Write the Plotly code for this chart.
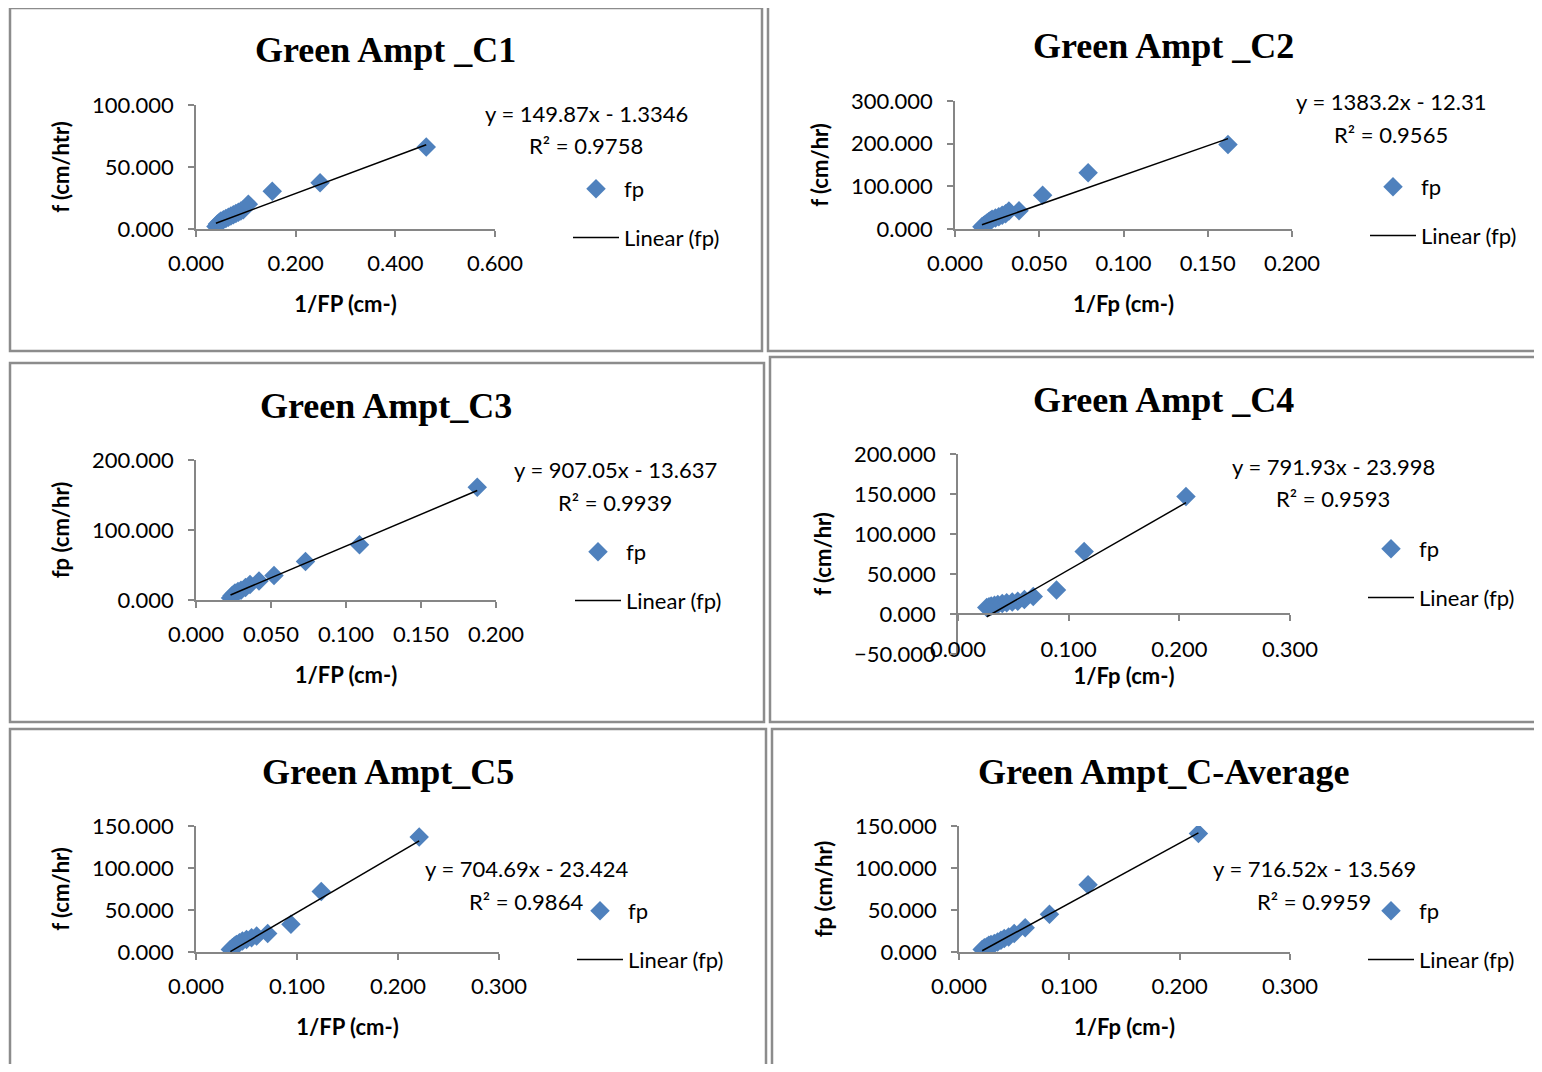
import plotly.graph_objects as go
import numpy as np

PAGE_OFF = 8          # default body margin of the page
W, H = 1542 - 2 * PAGE_OFF, 1072 - 2 * PAGE_OFF

# ---------------- data ----------------
titles = ["Green Ampt _C1", "Green Ampt _C2", "Green Ampt_C3",
          "Green Ampt _C4", "Green Ampt_C5", "Green Ampt_C-Average"]
x_titles = ["1/FP (cm-)", "1/Fp (cm-)", "1/FP (cm-)", "1/Fp (cm-)", "1/FP (cm-)", "1/Fp (cm-)"]
y_titles = ["f (cm/htr)", "f (cm/hr)", "fp (cm/hr)", "f (cm/hr)", "f (cm/hr)", "fp (cm/hr)"]

c1_x = [0.040, 0.043, 0.047, 0.050, 0.055, 0.060, 0.065, 0.070, 0.075, 0.080, 0.085, 0.090, 0.095, 0.105, 0.153, 0.249, 0.462]
c1_y = [2.0, 4.0, 5.5, 6.5, 7.5, 8.5, 9.5, 10.5, 11.5, 12.5, 13.5, 14.5, 15.5, 20.0, 30.4, 37.3, 66.1]

c2_x = [0.016, 0.017, 0.018, 0.019, 0.020, 0.021, 0.022, 0.024, 0.026, 0.028, 0.030, 0.032, 0.038, 0.052, 0.079, 0.162]
c2_y = [5.0, 8.0, 11.0, 14.0, 17.0, 20.0, 23.0, 26.0, 29.0, 32.0, 36.0, 42.0, 43.0, 79.0, 132.0, 198.0]

c3_x = [0.023, 0.024, 0.025, 0.026, 0.028, 0.030, 0.033, 0.036, 0.042, 0.052, 0.073, 0.109, 0.1875]
c3_y = [3.0, 6.0, 8.0, 10.0, 12.0, 14.0, 18.0, 22.0, 27.0, 35.0, 55.0, 79.0, 161.0]

c4_x = [0.026, 0.028, 0.030, 0.033, 0.036, 0.040, 0.044, 0.049, 0.054, 0.060, 0.068, 0.089, 0.114, 0.206]
c4_y = [8.0, 9.0, 10.0, 11.0, 12.0, 13.0, 14.0, 15.0, 16.0, 18.0, 22.0, 30.0, 78.0, 147.0]

c5_x = [0.034, 0.036, 0.038, 0.040, 0.043, 0.046, 0.050, 0.055, 0.060, 0.071, 0.094, 0.124, 0.221]
c5_y = [3.0, 5.0, 7.0, 9.0, 11.0, 13.0, 15.0, 17.0, 19.0, 22.0, 33.0, 72.0, 137.0]

c6_x = [0.021, 0.023, 0.025, 0.027, 0.029, 0.032, 0.035, 0.038, 0.041, 0.045, 0.050, 0.060, 0.082, 0.117, 0.217]
c6_y = [3.0, 5.0, 6.0, 8.0, 9.0, 10.0, 12.0, 14.0, 16.0, 18.0, 22.0, 29.0, 45.0, 80.0, 141.0]

slopes = [149.87, 1383.2, 907.05, 791.93, 704.69, 716.52]
intercepts = [-1.3346, -12.31, -13.637, -23.998, -23.424, -13.569]
eq_texts = ["y = 149.87x - 1.3346", "y = 1383.2x - 12.31", "y = 907.05x - 13.637",
            "y = 791.93x - 23.998", "y = 704.69x - 23.424", "y = 716.52x - 13.569"]
r2_texts = ["R² = 0.9758", "R² = 0.9565", "R² = 0.9939", "R² = 0.9593", "R² = 0.9864", "R² = 0.9959"]

x_ranges = [[0, 0.6], [0, 0.2], [0, 0.2], [0, 0.3], [0, 0.3], [0, 0.3]]
x_dticks = [0.2, 0.05, 0.05, 0.1, 0.1, 0.1]
y_ranges = [[0, 100], [0, 300], [0, 200], [-50, 200], [0, 150], [0, 150]]
y_dticks = [50, 100, 100, 50, 50, 50]

xs = [c1_x, c2_x, c3_x, c4_x, c5_x, c6_x]
ys = [c1_y, c2_y, c3_y, c4_y, c5_y, c6_y]

# ---------------- layout geometry (screen pixels) ----------------
plot_px = [  # x0, x1, ytop, ybottom
    (196, 495, 105, 229),
    (955, 1292, 101, 229),
    (196, 496, 460, 600),
    (958, 1290, 454, 654),
    (196, 499, 826, 952),
    (959, 1290, 826, 952),
]
frames = [(10, 8, 762, 351), (768, 4, 1560, 351), (10, 363, 764, 722),
          (770, 357, 1560, 722), (10, 729, 766, 1090), (772, 729, 1560, 1090)]
title_pos = [(385, 50), (1163, 46), (386, 406), (1163, 400), (388, 772), (1164, 772)]
eq_pos = [(586, 114, 146), (1391, 102, 134), (615, 469, 502),
          (1333, 466, 498), (526, 868, 901), (1314, 868, 901)]
legend_pos = [(567, 189), (1364, 187), (569, 552), (1362, 549), (571, 911), (1362, 911)]


def px(x):
    return (x - PAGE_OFF) / W


def py(y):
    return 1 - (y - PAGE_OFF) / H


BLUE = "#4F81BD"
AX = "#868686"
TICKFONT = dict(family="Lato", size=22, color="black")

fig = go.Figure()
layout = dict(width=W, height=H, autosize=False,
              margin=dict(l=0, r=0, t=0, b=0, pad=0, autoexpand=False),
              paper_bgcolor="white", plot_bgcolor="white",
              showlegend=True)
shapes = []
annotations = []

for i in range(6):
    n = i + 1
    xa = "x" if n == 1 else f"x{n}"
    ya = "y" if n == 1 else f"y{n}"
    lg = "legend" if n == 1 else f"legend{n}"
    x0, x1, yt, yb = plot_px[i]

    fig.add_trace(go.Scatter(
        x=xs[i], y=ys[i], mode="markers", name="fp",
        marker=dict(symbol="diamond", size=15, color=BLUE),
        xaxis=xa, yaxis=ya, legend=lg, legendgroup=f"g{n}a"))

    xmin, xmax = min(xs[i]), max(xs[i])
    lx = np.array([xmin, xmax])
    ly = slopes[i] * lx + intercepts[i]
    fig.add_trace(go.Scatter(
        x=lx, y=ly, mode="lines", name="Linear (fp)",
        line=dict(color="black", width=1.5),
        xaxis=xa, yaxis=ya, legend=lg, legendgroup=f"g{n}b"))

    xkey = "xaxis" if n == 1 else f"xaxis{n}"
    ykey = "yaxis" if n == 1 else f"yaxis{n}"
    ydom = [py(yb), py(yt)]
    xaxis = dict(domain=[px(x0), px(x1)], range=x_ranges[i], dtick=x_dticks[i],
                 tick0=0, tickformat=".3f", showgrid=False, zeroline=False,
                 showline=True, linecolor=AX, linewidth=1.5, ticks="outside",
                 ticklen=6, tickcolor=AX, tickwidth=1.5, tickfont=TICKFONT,
                 ticklabelstandoff=8,
                 title=dict(text=f"<b>{x_titles[i]}</b>",
                            font=dict(family="Lato", size=22, color="black"),
                            standoff=21),
                 anchor=ya, fixedrange=True, automargin=False)
    if n == 4:
        frac = (0 - y_ranges[i][0]) / (y_ranges[i][1] - y_ranges[i][0])
        xaxis.update(anchor="free", position=ydom[0] + frac * (ydom[1] - ydom[0]),
                     ticklabelstandoff=10)
        xaxis["title"]["standoff"] = 2
    yaxis = dict(domain=ydom, range=y_ranges[i], dtick=y_dticks[i], tick0=0,
                 tickformat=".3f", showgrid=False, zeroline=False,
                 showline=True, linecolor=AX, linewidth=1.5, ticks="outside",
                 ticklen=6, tickcolor=AX, tickwidth=1.5, tickfont=TICKFONT,
                 ticklabelstandoff=10,
                 title=dict(text=f"<b>{y_titles[i]}</b>",
                            font=dict(family="Lato", size=22, color="black"),
                            standoff=16),
                 anchor=xa, fixedrange=True, automargin=False)
    layout[xkey] = xaxis
    layout[ykey] = yaxis

    lx0, ly0 = legend_pos[i]
    layout[lg] = dict(x=px(lx0 + 1), y=py(ly0 - 21), xanchor="left", yanchor="top",
                      bgcolor="rgba(0,0,0,0)", borderwidth=0,
                      font=dict(family="Lato", size=22, color="black"),
                      tracegroupgap=17, itemwidth=46)

    fx0, fy0, fx1, fy1 = frames[i]
    shapes.append(dict(type="rect", xref="paper", yref="paper",
                       x0=px(fx0), x1=px(fx1), y0=py(fy1), y1=py(fy0),
                       line=dict(color="#8c8c8c", width=2.5), fillcolor="rgba(0,0,0,0)"))

    tx, ty = title_pos[i]
    annotations.append(dict(text=f"<b>{titles[i]}</b>", xref="paper", yref="paper",
                            x=px(tx), y=py(ty), xanchor="center", yanchor="middle",
                            showarrow=False,
                            font=dict(family="Liberation Serif", size=36, color="black")))
    ex, ey1, ey2 = eq_pos[i]
    annotations.append(dict(text=eq_texts[i], xref="paper", yref="paper",
                            x=px(ex), y=py(ey1), xanchor="center", yanchor="middle",
                            showarrow=False, font=dict(family="Lato", size=22, color="black")))
    annotations.append(dict(text=r2_texts[i], xref="paper", yref="paper",
                            x=px(ex), y=py(ey2), xanchor="center", yanchor="middle",
                            showarrow=False, font=dict(family="Lato", size=22, color="black")))

layout["shapes"] = shapes
layout["annotations"] = annotations
fig.update_layout(**layout)

fig.write_html("out.html", config={"responsive": False})
